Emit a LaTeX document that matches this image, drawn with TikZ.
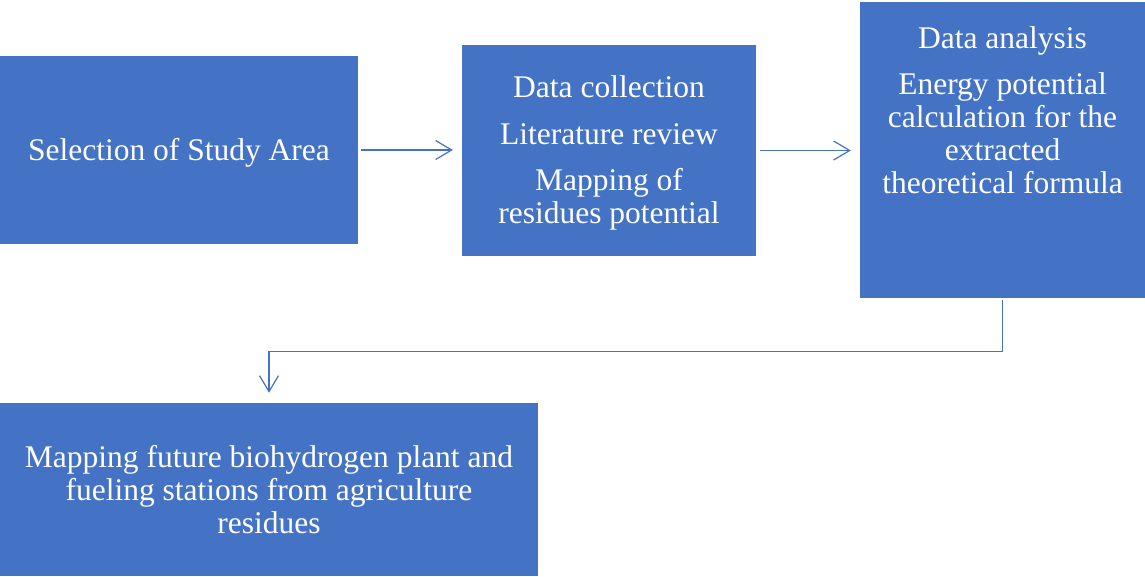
\documentclass[tikz,border=0pt]{standalone}
\usepackage{fontspec}
\setmainfont{Liberation Serif}
\usetikzlibrary{arrows.meta}
\definecolor{boxblue}{HTML}{4472C4}
\definecolor{lineblue}{HTML}{4472C4}
\newcommand{\topstrut}{\rule{0pt}{27.5pt}}
\begin{document}
\begin{tikzpicture}[x=1pt,y=-1pt,
  box/.style={fill=boxblue, draw=none, text=white, inner sep=0pt, align=center,
    font=\fontsize{31.5}{33}\selectfont},
  arr/.style={draw=lineblue, line width=1.2pt, -{Straight Barb[length=16pt,width=19pt,line width=1.2pt]}}
]
\useasboundingbox (0,0) rectangle (1145,576);
\node[box, minimum width=358pt, minimum height=188pt] (b1) at (179,150) {\topstrut Selection of Study Area};
\node[box, minimum width=294pt, minimum height=211pt] (b2) at (609,150.5)
  {\topstrut Data collection\\[13.5pt] Literature review\\[13.5pt] Mapping of\\ residues potential};
\node[box, minimum width=285pt, minimum height=296pt] (b3) at (1002.5,150)
  {\parbox[c][296pt][t]{285pt}{\centering\vspace*{25pt}Data analysis\\[13pt] Energy potential\\ calculation for the\\ extracted\\ theoretical formula}};
\node[box, minimum width=538pt, minimum height=173pt] (b4) at (269,489.5)
  {Mapping future biohydrogen plant and\\ fueling stations from agriculture\\ residues};
\draw[arr, shorten <=3pt, shorten >=9pt] (b1.east) -- (b1.east -| b2.west);
\draw[arr, shorten <=4pt, shorten >=9pt] (b2.east) -- (b2.east -| b3.west);
\draw[arr, shorten <=2pt, shorten >=10pt] (b3.south) -- ++(0,53) -| (b4.north);
\end{tikzpicture}
\end{document}
